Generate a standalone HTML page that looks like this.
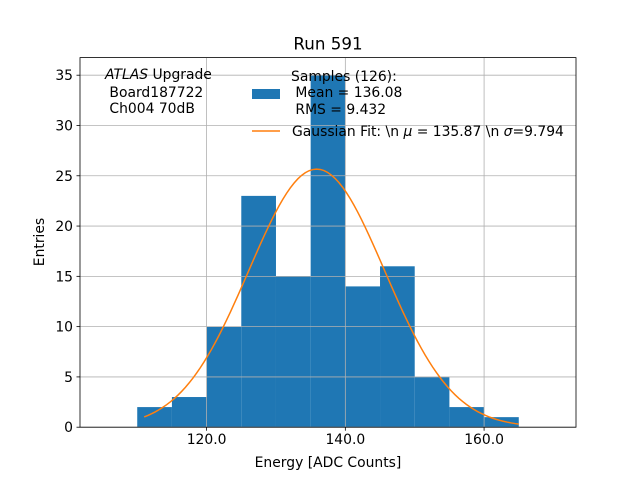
<!DOCTYPE html>
<html><head><meta charset="utf-8"><style>
html,body{margin:0;padding:0;background:#fff}
svg{display:block;font-family:"DejaVu Sans","Liberation Sans",sans-serif}
</style></head><body>
<svg id="chart" width="640" height="480" xmlns="http://www.w3.org/2000/svg" xml:space="preserve">
<rect width="640" height="480" fill="#fff"/>
<text x="328" y="49.5" font-size="16.7" text-anchor="middle">Run 591</text>
<g id="grid"></g>
<g id="bars"></g>
<g id="fit"></g>
<rect x="80" y="57.6" width="496" height="369.6" fill="none" stroke="#000" stroke-width="0.8"/>
<g id="ticks"></g>
<text x="328" y="467" font-size="13.9" text-anchor="middle">Energy [ADC Counts]</text>
<text transform="translate(44,242) rotate(-90)" font-size="13.9" text-anchor="middle">Entries</text>
<g font-size="13.9">
<text x="105" y="79"><tspan font-style="italic">ATLAS</tspan> Upgrade</text>
<text x="105" y="97">&#160;Board187722</text>
<text x="105" y="113">&#160;Ch004 70dB</text>
</g>
<g font-size="13.9">
<text x="291" y="81">Samples (126):</text>
<rect x="252" y="89" width="28" height="10" fill="#1f77b4"/>
<text x="291" y="97">&#160;Mean = 136.08</text>
<text x="291" y="114">&#160;RMS = 9.432</text>
<line x1="252" y1="131" x2="280" y2="131" stroke="#ff7f0e" stroke-width="1.5"/>
<text x="292" y="136">Gaussian Fit: \n <tspan font-style="italic">μ</tspan> = 135.87 \n <tspan font-style="italic">σ</tspan>=9.794</text>
</g>
</svg>
<script>
const binEdges=[110,115,120,125,130,135,140,145,150,155,160,165];
const counts=[2,3,10,23,15,35,14,16,5,2,1];
const xTicks=[120,140,160];
const xTickLabels=["120.0","140.0","160.0"];
const yTicks=[0,5,10,15,20,25,30,35];
const fitMu=[135.87];
const fitSigma=[9.794];
const fitRange=[111,165];
const nEntries=[126];

const NS="http://www.w3.org/2000/svg";
const X0=80,X1=576,Y0=427.2,Y1=57.6;
const xmin=101.75,xmax=173.25,ymin=0,ymax=36.75;
const sx=v=>X0+(v-xmin)/(xmax-xmin)*(X1-X0);
const sy=v=>Y0-(v-ymin)/(ymax-ymin)*(Y0-Y1);
function mk(tag,attrs,parent){const e=document.createElementNS(NS,tag);for(const k in attrs)e.setAttribute(k,attrs[k]);parent.appendChild(e);return e;}
const grid=document.getElementById('grid'),bars=document.getElementById('bars'),fit=document.getElementById('fit'),ticks=document.getElementById('ticks');
xTicks.forEach((t,i)=>{
 const x=sx(t);
 const g=mk('line',{x1:x,x2:x,y1:Y1,y2:Y0,stroke:'#b0b0b0','stroke-width':0.8},grid);
 
 
 const tk=mk('line',{x1:x,x2:x,y1:Y0,y2:Y0+3.5,stroke:'#000','stroke-width':0.8},ticks);
 
 
 const lb=mk('text',{x:x,y:Y0+17,'font-size':13.9,'text-anchor':'middle'},ticks);
 lb.textContent=xTickLabels[i];
 
 
});
yTicks.forEach(t=>{
 const y=sy(t);
 const g=mk('line',{x1:X0,x2:X1,y1:y,y2:y,stroke:'#b0b0b0','stroke-width':0.8},grid);
 
 
 const tk=mk('line',{x1:X0-3.5,x2:X0,y1:y,y2:y,stroke:'#000','stroke-width':0.8},ticks);
 
 
 const lb=mk('text',{x:X0-7,y:y+5,'font-size':13.9,'text-anchor':'end'},ticks);
 lb.textContent=String(t);
 
 
});
counts.forEach((c,i)=>{
 const x=sx(binEdges[i]),w=sx(binEdges[i+1])-x;
 const r=mk('rect',{x:x,y:sy(c),width:w,height:sy(0)-sy(c),fill:'#1f77b4'},bars);
 
 
});
grid.parentNode.insertBefore(bars,grid);
const bw=binEdges[1]-binEdges[0];
const amp=nEntries[0]*bw/(fitSigma[0]*Math.sqrt(2*Math.PI));
let pts=[];
for(let k=0;k<=100;k++){const v=fitRange[0]+(fitRange[1]-fitRange[0])*k/100;const yv=amp*Math.exp(-0.5*Math.pow((v-fitMu[0])/fitSigma[0],2));pts.push(sx(v).toFixed(2)+','+sy(yv).toFixed(2));}
const pl=mk('polyline',{points:pts.join(' '),fill:'none',stroke:'#ff7f0e','stroke-width':1.5},fit);


</script>
</body></html>
